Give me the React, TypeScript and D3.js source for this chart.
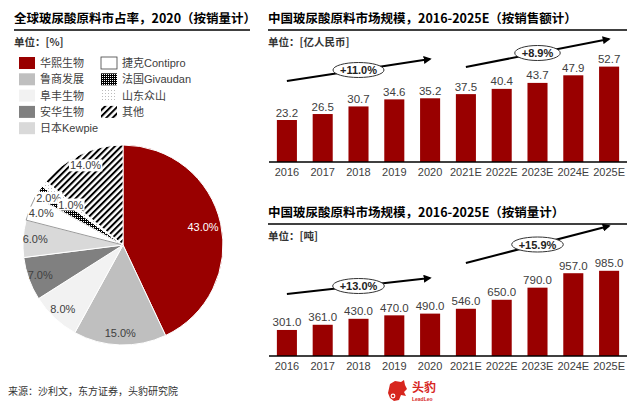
import React, { useEffect, useRef } from 'react';
import * as d3 from 'd3';

// pie: global share, 2020 (by volume)
const pieNames = ['华熙生物', '鲁商发展', '阜丰生物', '安华生物', '日本Kewpie', '捷克Contipro', '法国Givaudan', '山东众山', '其他'];
const pieShares = [43, 15, 8, 7, 6, 4, 2, 1, 14];

// bars: China market size
const years = ['2016', '2017', '2018', '2019', '2020', '2021E', '2022E', '2023E', '2024E', '2025E'];
const salesValues = [23.2, 26.5, 30.7, 34.6, 35.2, 37.5, 40.4, 43.7, 47.9, 52.7];
const volumeValues = [301, 361, 430, 470, 490, 546, 650, 790, 957, 985];
const salesCagr = [
  { from: '2016', to: '2020', label: '+11.0%' },
  { from: '2021E', to: '2025E', label: '+8.9%' },
];
const volumeCagr = [
  { from: '2016', to: '2020', label: '+13.0%' },
  { from: '2021E', to: '2025E', label: '+15.9%' },
];

const RED = '#990000';
const TEXT = '#404040';
const FONT = '"Liberation Sans", "Noto Sans CJK SC", sans-serif';
const CJK = '"Noto Sans CJK SC", sans-serif';

const App: React.FC = () => {
  const svgRef = useRef<SVGSVGElement>(null);

  useEffect(() => {
    if (!svgRef.current) return;
    const svg = d3.select(svgRef.current);
    svg.selectAll('*').remove();

    const defs = svg.append('defs');
    const hatch = defs.append('pattern').attr('id', 'hatch').attr('patternUnits', 'userSpaceOnUse')
      .attr('width', 4.5).attr('height', 4.5).attr('patternTransform', 'rotate(45)');
    hatch.append('rect').attr('width', 4.5).attr('height', 4.5).attr('fill', '#fff');
    hatch.append('rect').attr('width', 2).attr('height', 4.5).attr('fill', '#000');

    const checker = defs.append('pattern').attr('id', 'checker').attr('patternUnits', 'userSpaceOnUse')
      .attr('width', 2).attr('height', 2);
    checker.append('rect').attr('width', 2).attr('height', 2).attr('fill', '#000');
    checker.append('rect').attr('width', 1).attr('height', 1).attr('fill', '#fff');

    const dots = defs.append('pattern').attr('id', 'dots').attr('patternUnits', 'userSpaceOnUse')
      .attr('width', 3).attr('height', 3);
    dots.append('rect').attr('width', 3).attr('height', 3).attr('fill', '#fff');
    dots.append('rect').attr('width', 1).attr('height', 1).attr('fill', '#bbb');

    const marker = defs.append('marker').attr('id', 'arrow').attr('viewBox', '0 0 10 10')
      .attr('refX', 8).attr('refY', 5).attr('markerWidth', 4).attr('markerHeight', 4)
      .attr('orient', 'auto');
    marker.append('path').attr('d', 'M0,0 L10,5 L0,10 Z').attr('fill', '#000');

    const fills = ['#990000', '#bfbfbf', '#f2f2f2', '#808080', '#d9d9d9', '#ffffff', 'url(#checker)', 'url(#dots)', 'url(#hatch)'];

    // ---------- titles
    const title = (x: number, y: number, w: number, text: string, unit: string) => {
      svg.append('text').attr('x', x).attr('y', y).attr('font-family', CJK).attr('font-weight', 'bold')
        .attr('font-size', 12.5).attr('fill', '#000').text(text);
      svg.append('line').attr('x1', x).attr('x2', x + w).attr('y1', y + 7).attr('y2', y + 7)
        .attr('stroke', '#000').attr('stroke-width', 1.5);
      svg.append('text').attr('x', x).attr('y', y + 23).attr('font-family', CJK).attr('font-weight', 'bold')
        .attr('font-size', 10.5).attr('fill', '#333').text(unit);
    };
    title(14, 23, 236, '全球玻尿酸原料市占率，2020（按销量计）', '单位：[%]');
    title(268, 23, 359, '中国玻尿酸原料市场规模，2016-2025E（按销售额计）', '单位：[亿人民币]');
    title(268, 217, 359, '中国玻尿酸原料市场规模，2016-2025E（按销量计）', '单位：[吨]');

    // ---------- legend
    const legend = svg.append('g');
    pieNames.forEach((name, i) => {
      const col = i < 5 ? 0 : 1;
      const row = i < 5 ? i : i - 5;
      const lx = col === 0 ? 19 : 101;
      const ly = 57 + row * 16.3;
      legend.append('rect').attr('x', lx).attr('y', ly).attr('width', 16).attr('height', 12)
        .attr('fill', fills[i]).attr('stroke', i === 5 ? '#404040' : 'none').attr('stroke-width', 0.8);
      legend.append('text').attr('x', lx + 21).attr('y', ly + 10).attr('font-family', FONT)
        .attr('font-size', 11).attr('fill', TEXT).text(name);
    });

    // ---------- pie
    const cx = 123, cy = 245, R = 100;
    const pie = d3.pie<number>().sort(null).value(d => d);
    const arcs = pie(pieShares);
    const arc = d3.arc<d3.PieArcDatum<number>>().innerRadius(0).outerRadius(R);
    const pg = svg.append('g').attr('transform', `translate(${cx},${cy})`);
    pg.selectAll('path.slice').data(arcs).enter().append('path').attr('class', 'slice')
      .attr('d', arc)
      .attr('fill', (_, i) => fills[i])
      .attr('stroke', (_, i) => (i === 5 ? '#808080' : '#fff'))
      .attr('stroke-width', (_, i) => (i === 5 ? 0.8 : 1));

    const labelR = (i: number) => (i === 0 ? 82 : i === 7 ? 66 : 88);
    arcs.forEach((a, i) => {
      const la = d3.arc<d3.PieArcDatum<number>>().innerRadius(labelR(i)).outerRadius(labelR(i));
      const [lx, ly] = la.centroid(a);
      const lg = pg.append('g');
      const t = lg.append('text').attr('x', lx).attr('y', ly + 4).attr('text-anchor', 'middle')
        .attr('font-family', FONT).attr('font-size', 11)
        .attr('fill', i === 0 ? '#fff' : TEXT).text(`${a.data.toFixed(1)}%`);
      if (i >= 5) {
        const bb = (t.node() as SVGTextElement).getBBox();
        lg.insert('rect', 'text').attr('x', bb.x - 1).attr('y', bb.y).attr('width', bb.width + 2)
          .attr('height', bb.height).attr('fill', '#fff');
      }
    });

    // ---------- bar charts
    const x = d3.scaleBand<string>().domain(years).range([269, 627]).paddingInner(0.44).paddingOuter(0.22);

    const bars = (
      values: number[],
      y: d3.ScaleLinear<number, number>,
      fmt: (v: number) => string,
      cagr: { from: string; to: string; label: string }[],
      arrowYs: [number, number][]
    ) => {
      const g = svg.append('g');
      const base = y(0);
      g.selectAll('rect').data(values).enter().append('rect')
        .attr('x', (_, i) => x(years[i])!)
        .attr('y', d => y(d))
        .attr('width', x.bandwidth())
        .attr('height', d => base - y(d))
        .attr('fill', RED);
      g.selectAll('text.val').data(values).enter().append('text').attr('class', 'val')
        .attr('x', (_, i) => x(years[i])! + x.bandwidth() / 2)
        .attr('y', d => y(d) - 3.5)
        .attr('text-anchor', 'middle').attr('font-family', FONT).attr('font-size', 11.5)
        .attr('fill', TEXT).text(d => fmt(d));
      g.append('line').attr('x1', 269).attr('x2', 627).attr('y1', base).attr('y2', base)
        .attr('stroke', '#000').attr('stroke-width', 1.5);
      g.selectAll('text.tick').data(years).enter().append('text').attr('class', 'tick')
        .attr('x', d => x(d)! + x.bandwidth() / 2)
        .attr('y', base + 14)
        .attr('text-anchor', 'middle').attr('font-family', FONT).attr('font-size', 11)
        .attr('fill', TEXT).text(d => d);

      cagr.forEach((c, i) => {
        const x1 = x(c.from)! + x.bandwidth() / 2;
        const x2 = x(c.to)! + x.bandwidth() / 2;
        const [y1, y2] = arrowYs[i];
        g.append('line').attr('x1', x1).attr('y1', y1).attr('x2', x2).attr('y2', y2)
          .attr('stroke', '#000').attr('stroke-width', 2).attr('marker-end', 'url(#arrow)');
        const mx = (x1 + x2) / 2, my = (y1 + y2) / 2;
        const e = g.append('ellipse').attr('cx', mx).attr('cy', my).attr('ry', 7.5)
          .attr('fill', '#fff').attr('stroke', '#333').attr('stroke-width', 1);
        const t = g.append('text').attr('x', mx).attr('y', my + 4).attr('text-anchor', 'middle')
          .attr('font-family', FONT).attr('font-weight', 'bold').attr('font-size', 11)
          .attr('fill', '#222').text(c.label);
        const w = (t.node() as SVGTextElement).getComputedTextLength();
        e.attr('rx', w / 2 + 7);
      });
    };

    const ySales = d3.scaleLinear().domain([0, 60]).range([162, 162 - 108.6]);
    bars(salesValues, ySales, v => v.toFixed(1), salesCagr, [[81, 59], [67, 39]]);

    const yVol = d3.scaleLinear().domain([0, 1200]).range([356, 356 - 103.8]);
    bars(volumeValues, yVol, v => v.toFixed(1), volumeCagr, [[294, 278], [263, 226]]);

    // ---------- source + logo
    svg.append('text').attr('x', 8).attr('y', 395).attr('font-family', CJK).attr('font-size', 10)
      .attr('fill', '#333').text('来源：沙利文，东方证券，头豹研究院');

    const logo = svg.append('g').attr('transform', 'translate(398,391)');
    logo.append('path')
      .attr('d', 'M-8,-7 L-3,-10 L3,-9 L6,-11 L7,-6 L9,-2 L6,1 L8,5 L3,4 L1,9 L-4,10 L-8,7 L-10,2 Z')
      .attr('fill', '#d7261e');
    logo.append('circle').attr('cx', -5).attr('cy', 5).attr('r', 2.4).attr('fill', '#fff');
    logo.append('circle').attr('cx', -5).attr('cy', 5).attr('r', 1.3).attr('fill', '#d7261e');
    svg.append('text').attr('x', 412).attr('y', 392).attr('font-family', CJK).attr('font-weight', 'bold')
      .attr('font-size', 12).attr('fill', '#d7261e').text('头豹');
    svg.append('text').attr('x', 412).attr('y', 401).attr('font-family', FONT).attr('font-weight', 'bold')
      .attr('font-size', 5).attr('fill', '#d7261e').text('LeadLeo');
  }, []);

  return (
    <svg
      ref={svgRef}
      width={640}
      height={404}
      style={{ position: 'absolute', left: 0, top: 0, background: '#fff' }}
    />
  );
};

export default App;
